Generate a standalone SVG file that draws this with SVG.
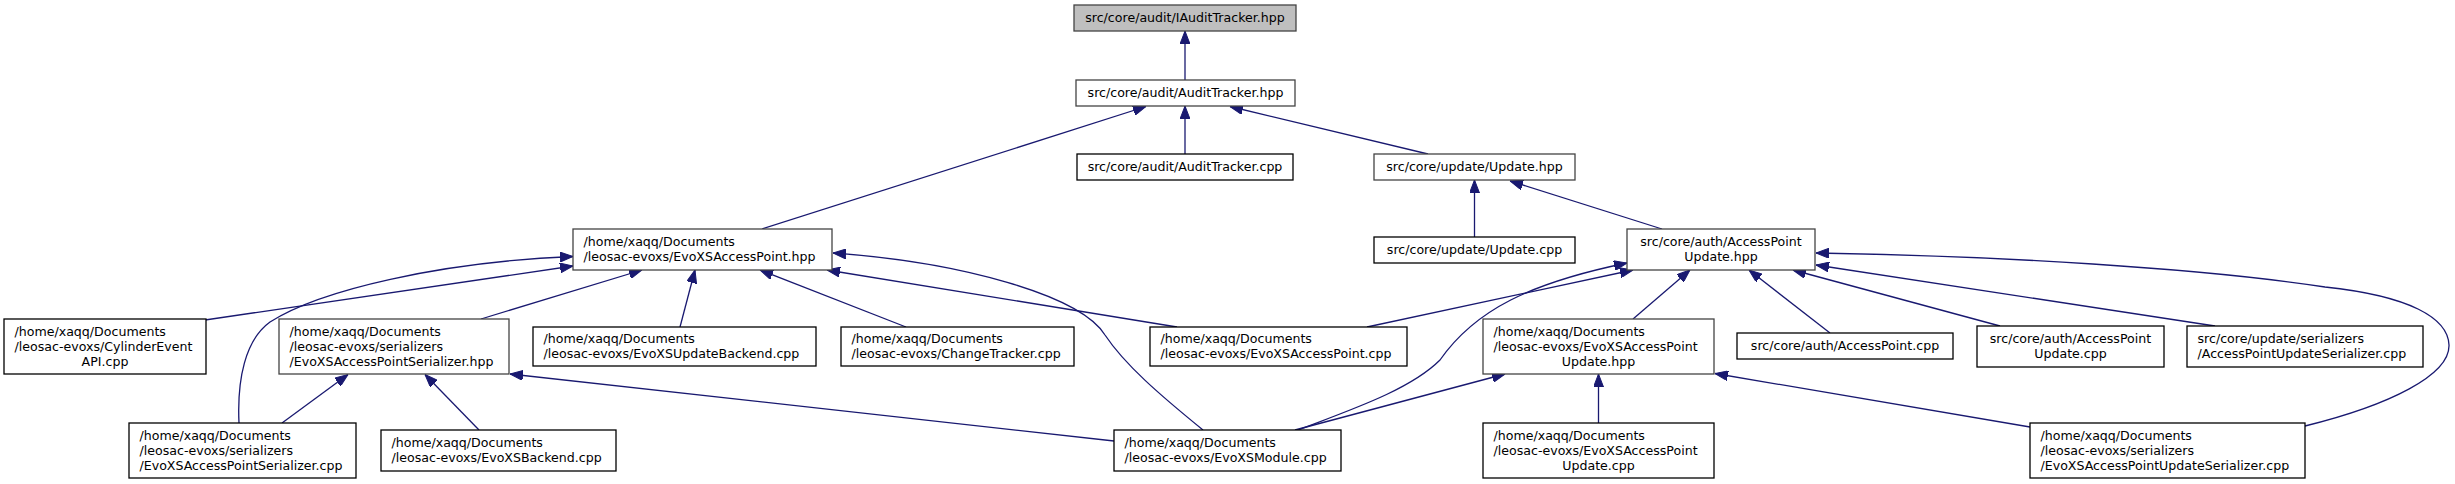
<svg xmlns="http://www.w3.org/2000/svg" width="2455" height="484" viewBox="0 0 2455 484">
<defs>
<style>
.bg{fill:#ffffff}
.n rect{fill:#ffffff;stroke:#000000;stroke-width:1.3}
.n.g rect{stroke:#444444}
.n.root rect{fill:#bfbfbf}
.n text{font-family:"DejaVu Sans",sans-serif;font-size:12.6px;fill:#000000}
.c{text-anchor:middle}
#edges path{fill:none;stroke:#191970;stroke-width:1.3;marker-end:url(#ah)}
</style>
<marker id="ah" markerUnits="userSpaceOnUse" viewBox="0 0 13 10" refX="13" refY="5" markerWidth="13" markerHeight="10" orient="auto">
<path d="M0,0 L13,5 L0,10 z" fill="#191970" stroke="#191970" stroke-width="1"/>
</marker>
</defs>
<rect class="bg" x="0" y="0" width="2455" height="484"/>
<g id="edges">
<path d="M1185,80 L1185,31"/>
<path d="M762,229 L1146,106.5"/>
<path d="M1185,154 L1185,106"/>
<path d="M1428,154 L1230,106.5"/>
<path d="M1474.5,237 L1474.5,180"/>
<path d="M1662,229 L1510,181"/>
<path d="M205,320 L573,266"/>
<path d="M239,423 C237,380 245,340 270,322 C320,290 440,262 573,256.5"/>
<path d="M481,319 L642,270"/>
<path d="M680,327 L695,270"/>
<path d="M906,327 L760,270"/>
<path d="M1177,327 L827,270"/>
<path d="M1203,430 C1160,395 1125,365 1105,335 C1080,295 960,262 833,253"/>
<path d="M1114,441 L510,374"/>
<path d="M282,423 L348,374.5"/>
<path d="M479,430 L425,374.5"/>
<path d="M1367,327 L1633,270"/>
<path d="M1298,430 C1350,410 1410,390 1440,360 C1475,310 1530,283 1627,263"/>
<path d="M1295,430 L1505,374"/>
<path d="M1633,319 L1690,270"/>
<path d="M1830,333 L1749,270"/>
<path d="M2000,326 L1793,270"/>
<path d="M2215,326 L1816,265"/>
<path d="M2305,426 C2390,405 2450,375 2449,345 C2448,318 2410,296 2325,287 C2200,268 2000,256 1816,253"/>
<path d="M2030,427 L1715,373.5"/>
<path d="M1598.5,423 L1598.5,374"/>
</g>
<g id="n0" class="n g root"><rect x="1074" y="5" width="222" height="26"/><text class="c" x="1185" y="22.3">src/core/audit/IAuditTracker.hpp</text></g>
<g id="n1" class="n g"><rect x="1076" y="80" width="219" height="26"/><text class="c" x="1185.5" y="97.3">src/core/audit/AuditTracker.hpp</text></g>
<g id="n2" class="n"><rect x="1077" y="154" width="216" height="26"/><text class="c" x="1185" y="171.3">src/core/audit/AuditTracker.cpp</text></g>
<g id="n3" class="n g"><rect x="1374" y="154" width="201" height="26"/><text class="c" x="1474.5" y="171.3">src/core/update/Update.hpp</text></g>
<g id="n4" class="n"><rect x="1374" y="237" width="201" height="26"/><text class="c" x="1474.5" y="254.3">src/core/update/Update.cpp</text></g>
<g id="n5" class="n g"><rect x="1627" y="229" width="188" height="41"/><text class="c" x="1721" y="246.3">src/core/auth/AccessPoint</text><text class="c" x="1721" y="261.3">Update.hpp</text></g>
<g id="n6" class="n g"><rect x="573" y="229" width="259" height="41"/><text x="583.5" y="246.3">/home/xaqq/Documents</text><text x="583.5" y="261.3">/leosac-evoxs/EvoXSAccessPoint.hpp</text></g>
<g id="n7" class="n"><rect x="4" y="319" width="202" height="55"/><text x="14.5" y="335.8">/home/xaqq/Documents</text><text x="14.5" y="350.8">/leosac-evoxs/CylinderEvent</text><text class="c" x="105" y="365.8">API.cpp</text></g>
<g id="n8" class="n g"><rect x="279" y="319" width="230" height="55"/><text x="289.5" y="335.8">/home/xaqq/Documents</text><text x="289.5" y="350.8">/leosac-evoxs/serializers</text><text x="289.5" y="365.8">/EvoXSAccessPointSerializer.hpp</text></g>
<g id="n9" class="n"><rect x="533" y="327" width="283" height="39"/><text x="543.5" y="343.3">/home/xaqq/Documents</text><text x="543.5" y="358.3">/leosac-evoxs/EvoXSUpdateBackend.cpp</text></g>
<g id="n10" class="n"><rect x="841" y="327" width="233" height="39"/><text x="851.5" y="343.3">/home/xaqq/Documents</text><text x="851.5" y="358.3">/leosac-evoxs/ChangeTracker.cpp</text></g>
<g id="n11" class="n"><rect x="1150" y="327" width="257" height="39"/><text x="1160.5" y="343.3">/home/xaqq/Documents</text><text x="1160.5" y="358.3">/leosac-evoxs/EvoXSAccessPoint.cpp</text></g>
<g id="n12" class="n g"><rect x="1483" y="319" width="231" height="55"/><text x="1493.5" y="335.8">/home/xaqq/Documents</text><text x="1493.5" y="350.8">/leosac-evoxs/EvoXSAccessPoint</text><text class="c" x="1598.5" y="365.8">Update.hpp</text></g>
<g id="n13" class="n"><rect x="1737" y="333" width="216" height="26"/><text class="c" x="1845" y="350.3">src/core/auth/AccessPoint.cpp</text></g>
<g id="n14" class="n"><rect x="1977" y="326" width="187" height="41"/><text class="c" x="2070.5" y="343.3">src/core/auth/AccessPoint</text><text class="c" x="2070.5" y="358.3">Update.cpp</text></g>
<g id="n15" class="n"><rect x="2187" y="326" width="236" height="41"/><text x="2197.5" y="343.3">src/core/update/serializers</text><text x="2197.5" y="358.3">/AccessPointUpdateSerializer.cpp</text></g>
<g id="n16" class="n"><rect x="129" y="423" width="227" height="55"/><text x="139.5" y="439.8">/home/xaqq/Documents</text><text x="139.5" y="454.8">/leosac-evoxs/serializers</text><text x="139.5" y="469.8">/EvoXSAccessPointSerializer.cpp</text></g>
<g id="n17" class="n"><rect x="381" y="430" width="235" height="41"/><text x="391.5" y="447.3">/home/xaqq/Documents</text><text x="391.5" y="462.3">/leosac-evoxs/EvoXSBackend.cpp</text></g>
<g id="n18" class="n"><rect x="1114" y="430" width="227" height="41"/><text x="1124.5" y="447.3">/home/xaqq/Documents</text><text x="1124.5" y="462.3">/leosac-evoxs/EvoXSModule.cpp</text></g>
<g id="n19" class="n"><rect x="1483" y="423" width="231" height="55"/><text x="1493.5" y="439.8">/home/xaqq/Documents</text><text x="1493.5" y="454.8">/leosac-evoxs/EvoXSAccessPoint</text><text class="c" x="1598.5" y="469.8">Update.cpp</text></g>
<g id="n20" class="n"><rect x="2030" y="423" width="275" height="55"/><text x="2040.5" y="439.8">/home/xaqq/Documents</text><text x="2040.5" y="454.8">/leosac-evoxs/serializers</text><text x="2040.5" y="469.8">/EvoXSAccessPointUpdateSerializer.cpp</text></g>
</svg>
